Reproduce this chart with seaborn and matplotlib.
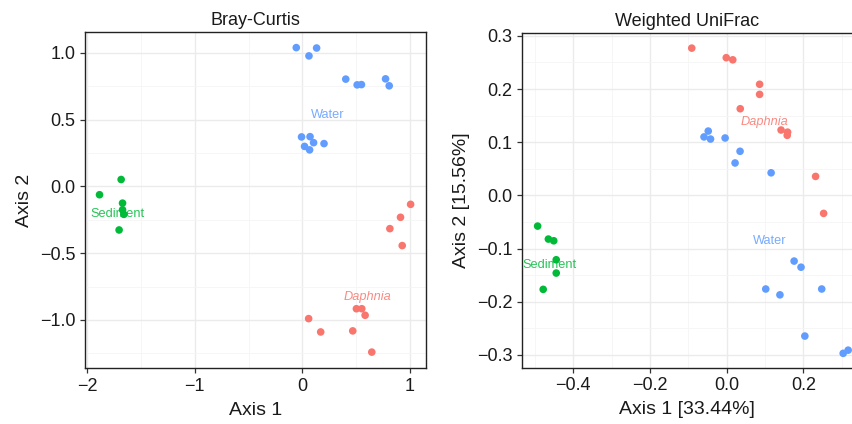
import matplotlib
matplotlib.use("Agg")
import matplotlib.pyplot as plt
from matplotlib.ticker import MultipleLocator
import seaborn as sns
import pandas as pd

# ---------------- data ----------------
groups = ["Daphnia", "Sediment", "Water"]
palette = {"Daphnia": "#F8766D", "Sediment": "#00BA38", "Water": "#619CFF"}

# Bray-Curtis
bc_water_x = [-0.056, 0.062, 0.133, 0.404, 0.510, 0.550, 0.774, 0.808,
              -0.007, 0.072, 0.021, 0.105, 0.068, 0.202]
bc_water_y = [1.040, 0.978, 1.037, 0.804, 0.761, 0.763, 0.806, 0.754,
              0.371, 0.373, 0.300, 0.328, 0.274, 0.321]
bc_sed_x = [-1.684, -1.885, -1.671, -1.671, -1.659, -1.703]
bc_sed_y = [0.052, -0.062, -0.125, -0.175, -0.209, -0.326]
bc_daph_x = [1.007, 0.913, 0.814, 0.929, 0.059, 0.171, 0.469, 0.503, 0.553, 0.584, 0.646]
bc_daph_y = [-0.134, -0.231, -0.316, -0.443, -0.990, -1.090, -1.082, -0.916, -0.916, -0.965, -1.241]
bc_label_pos = {"Water": (0.24, 0.537), "Sediment": (-1.715, -0.21), "Daphnia": (0.606, -0.828)}

# Weighted UniFrac
wu_water_x = [-0.048, -0.059, -0.042, -0.004, 0.035, 0.022, 0.116,
              0.176, 0.194, 0.102, 0.139, 0.248, 0.204, 0.304, 0.317]
wu_water_y = [0.121, 0.110, 0.106, 0.108, 0.083, 0.061, 0.0425,
              -0.1235, -0.135, -0.176, -0.187, -0.176, -0.2645, -0.297, -0.291]
wu_sed_x = [-0.493, -0.465, -0.451, -0.4445, -0.4445, -0.4785]
wu_sed_y = [-0.0577, -0.0821, -0.0853, -0.121, -0.146, -0.1767]
wu_daph_x = [-0.091, -0.001, 0.016, 0.086, 0.086, 0.0355, 0.142, 0.159, 0.158, 0.232, 0.253]
wu_daph_y = [0.277, 0.259, 0.255, 0.209, 0.190, 0.163, 0.123, 0.119, 0.113, 0.0357, -0.0338]
wu_label_pos = {"Water": (0.113, -0.0853), "Sediment": (-0.463, -0.1305), "Daphnia": (0.098, 0.138)}

titles = ["Bray-Curtis", "Weighted UniFrac"]
xlabels = ["Axis 1", "Axis 1 [33.44%]"]
ylabels = ["Axis 2", "Axis 2 [15.56%]"]


def make_df(dx, dy, sx, sy, wx, wy):
    return pd.DataFrame({
        "x": list(dx) + list(sx) + list(wx),
        "y": list(dy) + list(sy) + list(wy),
        "group": ["Daphnia"] * len(dx) + ["Sediment"] * len(sx) + ["Water"] * len(wx),
    })


df_bc = make_df(bc_daph_x, bc_daph_y, bc_sed_x, bc_sed_y, bc_water_x, bc_water_y)
df_wu = make_df(wu_daph_x, wu_daph_y, wu_sed_x, wu_sed_y, wu_water_x, wu_water_y)

# ---------------- style ----------------
sns.set_theme(style="white")
plt.rcParams["font.family"] = ["Liberation Sans", "DejaVu Sans"]

W, H = 852, 424
fig = plt.figure(figsize=(W / 100, H / 100), dpi=100)

ax1 = fig.add_axes([85 / W, (H - 368) / H, (426 - 85) / W, (368 - 32) / H])
ax2 = fig.add_axes([522.3 / W, (H - 367.7) / H, (852 - 522.3) / W, (367.7 - 32.7) / H])

configs = [
    (ax1, df_bc, bc_label_pos, (-2.02, 1.15), (-1.36, 1.157), 1.0, 0.5),
    (ax2, df_wu, wu_label_pos, (-0.533, 0.327), (-0.324, 0.306), 0.2, 0.1),
]

for i, (ax, df, lab, xl, yl, xmaj, ymaj) in enumerate(configs):
    sns.scatterplot(data=df, x="x", y="y", hue="group", palette=palette,
                    hue_order=groups, s=30, linewidth=0, legend=False, ax=ax,
                    zorder=3)
    for g, (lx, ly) in lab.items():
        ax.text(lx, ly, g, color=palette[g], alpha=0.85, fontsize=9.2,
                ha="center", va="center",
                fontstyle="italic" if g == "Daphnia" else "normal", zorder=4)
    ax.set_xlim(*xl)
    ax.set_ylim(*yl)
    ax.xaxis.set_major_locator(MultipleLocator(xmaj))
    ax.yaxis.set_major_locator(MultipleLocator(ymaj))
    ax.xaxis.set_minor_locator(MultipleLocator(xmaj / 2))
    ax.yaxis.set_minor_locator(MultipleLocator(ymaj / 2))
    ax.grid(which="major", color="#EBEBEB", linewidth=1.0, zorder=0)
    ax.grid(which="minor", color="#F5F5F5", linewidth=0.6, zorder=0)
    ax.set_axisbelow(True)
    ax.tick_params(which="major", direction="out", length=3.5, width=0.9,
                   color="#333333", labelsize=13, labelcolor="#1a1a1a",
                   bottom=True, left=True, pad=3.5)
    ax.tick_params(which="minor", length=0)
    for side in ["left", "bottom", "top", "right"]:
        ax.spines[side].set_color("#222222")
        ax.spines[side].set_linewidth(1.0)
    ax.set_title(titles[i], fontsize=13, pad=5, color="#1a1a1a")
    ax.set_xlabel(xlabels[i], fontsize=14, labelpad=5, color="#1a1a1a")
    ax.set_ylabel(ylabels[i], fontsize=14, labelpad=5, color="#1a1a1a")

ax2.spines["right"].set_visible(False)

fig.savefig("out.png", dpi=100)
